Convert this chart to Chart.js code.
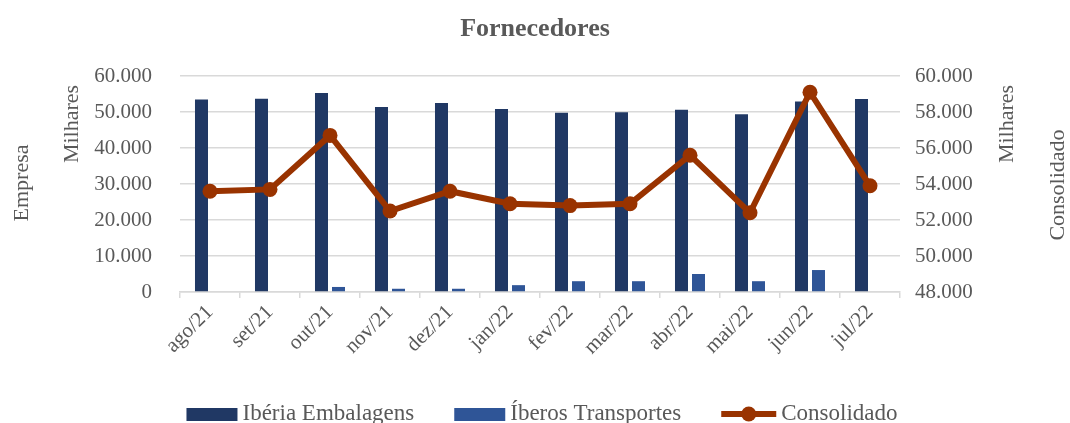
<!DOCTYPE html>
<html><head><meta charset="utf-8">
<script src="https://cdn.jsdelivr.net/npm/chart.js@4/dist/chart.umd.min.js"></script>
<style>html,body{margin:0;padding:0;background:#fff;}#wrap{width:1070px;height:423px;}</style>
</head><body><div id="wrap"><canvas id="c" width="1070" height="423"></canvas></div>
<script>
const categories = ['ago/21','set/21','out/21','nov/21','dez/21','jan/22','fev/22','mar/22','abr/22','mai/22','jun/22','jul/22'];
const iberiaEmbalagens = [53500, 53700, 55300, 51400, 52500, 50800, 49800, 49900, 50600, 49400, 52900, 53600];
const iberosTransportes = [0, 0, 1400, 900, 900, 1900, 3000, 3000, 5000, 3000, 6100, 0];
const consolidado = [53600, 53700, 56700, 52500, 53600, 52900, 52800, 52900, 55600, 52400, 59100, 53900];
const seriesNames = ['Ibéria Embalagens', 'Íberos Transportes', 'Consolidado'];
const titleText = 'Fornecedores';
const leftAxisTitles = ['Empresa', 'Milhares'];
const rightAxisTitles = ['Milhares', 'Consolidado'];

const FONT = "'Liberation Serif', 'DejaVu Serif', serif";
const GREY = '#595959';
const C1 = '#203864', C2 = '#2F5597', C3 = '#993300';
const fmt = v => Math.round(v).toLocaleString('pt-BR');

const axisTitlesPlugin = {
  id: 'axisTitles',
  afterDraw(chart) {
    const ctx = chart.ctx, a = chart.chartArea;
    ctx.save();
    ctx.fillStyle = GREY;
    ctx.font = '22px ' + FONT;
    ctx.textAlign = 'center';
    ctx.textBaseline = 'middle';
    const draw = (t, x, y) => { ctx.save(); ctx.translate(x, y); ctx.rotate(-Math.PI / 2); ctx.fillText(t, 0, 0); ctx.restore(); };
    draw(leftAxisTitles[0], a.left - 158, a.top + 107);
    draw(leftAxisTitles[1], a.left - 108, a.top + 48);
    draw(rightAxisTitles[0], a.right + 107, a.top + 48);
    draw(rightAxisTitles[1], a.right + 158, a.top + 109);
    ctx.restore();
  }
};

const legendPlugin = {
  id: 'customLegend',
  afterDraw(chart) {
    const ctx = chart.ctx;
    ctx.save();
    ctx.font = '23px ' + FONT;
    ctx.textBaseline = 'alphabetic';
    ctx.textAlign = 'left';
    const ds = chart.data.datasets;
    const items = seriesNames.map(n => ds.find(d => d.label === n));
    const boxW = 51, lineW = 55, gapBox = 5, gapItem = 40;
    const widths = items.map(d => (d.type === 'bar' ? boxW : lineW) + gapBox + ctx.measureText(d.label).width);
    const total = widths.reduce((s, w) => s + w, 0) + gapItem * 2;
    let x = 542 - total / 2;
    const baseY = 420, midY = 414;
    items.forEach(d => {
      if (d.type === 'bar') {
        ctx.fillStyle = d.backgroundColor;
        ctx.fillRect(x, 408, boxW, 13);
        x += boxW + gapBox;
      } else {
        ctx.strokeStyle = d.borderColor;
        ctx.lineWidth = 6;
        ctx.beginPath(); ctx.moveTo(x, midY); ctx.lineTo(x + lineW, midY); ctx.stroke();
        ctx.fillStyle = d.borderColor;
        ctx.beginPath(); ctx.arc(x + lineW / 2, midY, 7.5, 0, Math.PI * 2); ctx.fill();
        x += lineW + gapBox;
      }
      ctx.fillStyle = GREY;
      ctx.fillText(d.label, x, baseY);
      x += ctx.measureText(d.label).width + gapItem;
    });
    ctx.restore();
  }
};

Chart.defaults.font.family = FONT;
Chart.defaults.color = GREY;

new Chart(document.getElementById('c'), {
  data: {
    labels: categories,
    datasets: [
      { type: 'line', label: seriesNames[2], data: consolidado, yAxisID: 'y1', order: 0,
        borderColor: C3, backgroundColor: C3, borderWidth: 6, pointRadius: 7.5, pointHoverRadius: 7.5,
        pointBackgroundColor: C3, pointBorderWidth: 0, tension: 0 },
      { type: 'bar', label: seriesNames[0], data: iberiaEmbalagens, yAxisID: 'y', order: 1,
        backgroundColor: C1, borderWidth: 0, categoryPercentage: 0.567, barPercentage: 0.765 },
      { type: 'bar', label: seriesNames[1], data: iberosTransportes, yAxisID: 'y', order: 2,
        backgroundColor: C2, borderWidth: 0, categoryPercentage: 0.567, barPercentage: 0.765 }
    ]
  },
  options: {
    responsive: false,
    devicePixelRatio: 1,
    animation: false,
    layout: { padding: 0 },
    plugins: {
      legend: { display: false },
      tooltip: { enabled: false },
      title: { display: true, text: titleText, color: GREY,
        font: { family: FONT, size: 26, weight: 'bold' }, padding: { top: 14, bottom: 30.8 } }
    },
    scales: {
      x: {
        offset: true,
        grid: { display: true, drawOnChartArea: false, drawTicks: true, tickLength: 6, color: '#d9d9d9', lineWidth: 1.5, offset: true },
        border: { display: true, color: '#d9d9d9', width: 1.5 },
        ticks: { autoSkip: false, maxRotation: 45, minRotation: 45, padding: 2, color: GREY, font: { size: 21 } },
        afterFit(s) { s.height = 131; }
      },
      y: {
        position: 'left', min: 0, max: 60000,
        grid: { color: '#d9d9d9', lineWidth: 1.5, drawTicks: false },
        border: { display: false },
        ticks: { stepSize: 10000, padding: 28, color: GREY, font: { size: 21 }, callback: v => fmt(v) },
        afterFit(s) { s.width = 180; }
      },
      y1: {
        position: 'right', min: 48000, max: 60000,
        grid: { display: false, drawTicks: false },
        border: { display: false },
        ticks: { stepSize: 2000, padding: 15, color: GREY, font: { size: 21 }, callback: v => fmt(v) },
        afterFit(s) { s.width = 170; }
      }
    }
  },
  plugins: [axisTitlesPlugin, legendPlugin]
});
</script></body></html>
